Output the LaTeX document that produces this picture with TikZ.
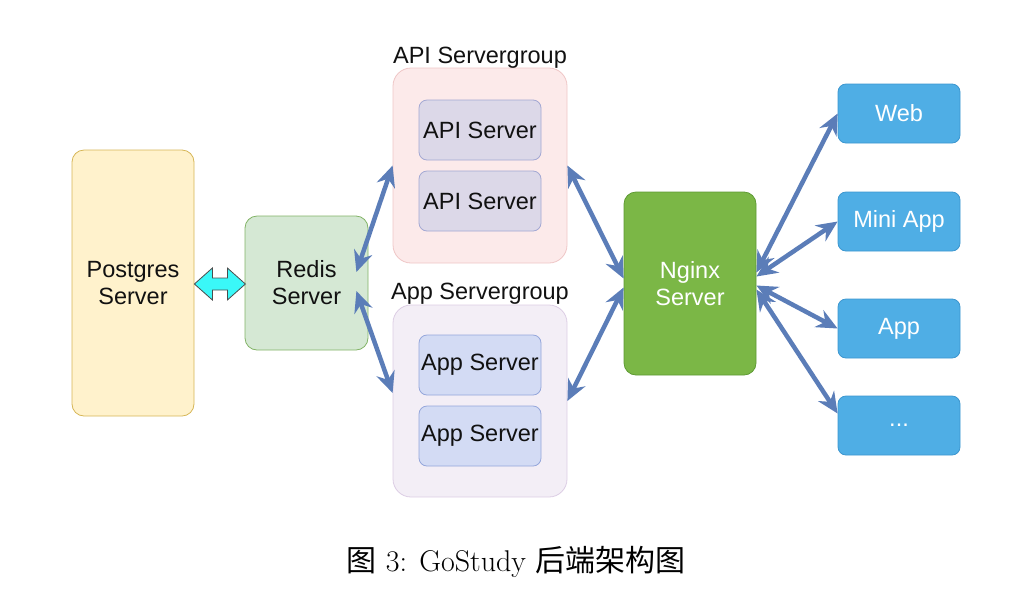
\documentclass[tikz,border=0pt]{standalone}
\usepackage{fontspec}
\newfontfamily\helv{Liberation Sans}
\newfontfamily\cjk{Noto Sans CJK SC}
\usetikzlibrary{arrows.meta}
\definecolor{pgfill}{HTML}{FFF2CC}
\definecolor{pgline}{HTML}{D6B656}
\definecolor{rdfill}{HTML}{D5E8D4}
\definecolor{rdline}{HTML}{82B366}
\definecolor{apigfill}{HTML}{FCEAEA}
\definecolor{apigline}{HTML}{EFC6C6}
\definecolor{apifill}{HTML}{DCD8E8}
\definecolor{apiline}{HTML}{A3A8D3}
\definecolor{appgfill}{HTML}{F3EEF6}
\definecolor{appgline}{HTML}{DCCDE4}
\definecolor{appfill}{HTML}{D3DBF4}
\definecolor{appline}{HTML}{94A6DB}
\definecolor{ngfill}{HTML}{7BB746}
\definecolor{ngline}{HTML}{5E9A34}
\definecolor{clfill}{HTML}{4FAEE5}
\definecolor{clline}{HTML}{3C96CF}
\definecolor{link}{HTML}{5B7DB8}
\definecolor{dbfill}{HTML}{3AF8F8}
\definecolor{txt}{HTML}{111111}
\tikzset{
  box/.style={draw, line width=0.8pt, rounded corners=8pt, align=center,
    font=\helv\fontsize{23.5}{27}\selectfont, text=txt, inner sep=0pt},
  grp/.style={box, rounded corners=18pt, minimum width=174pt},
  srv/.style={box, minimum width=122pt, minimum height=60pt},
  client/.style={box, fill=clfill, draw=clline, text=white,
    minimum width=122pt, minimum height=59pt},
  link/.style={draw=link, line width=4.5pt,
    {Stealth[length=21pt,width=19pt,inset=7pt]}-{Stealth[length=21pt,width=19pt,inset=7pt]}},
  grplabel/.style={font=\helv\fontsize{23.5}{27}\selectfont, text=txt}
}
\begin{document}
\begin{tikzpicture}[x=1pt,y=-1pt]
  \useasboundingbox (0,0) rectangle (1016,598);
  % storage
  \node[box, fill=pgfill, draw=pgline, rounded corners=12pt,
    minimum width=122pt, minimum height=266pt] (pg) at (133,283) {Postgres\\Server};
  \node[box, fill=rdfill, draw=rdline, rounded corners=12pt,
    minimum width=123pt, minimum height=134pt] (redis) at (306.5,283) {Redis\\Server};
  % sync arrow between postgres and redis
  \draw[fill=dbfill, draw=gray!60!black, line width=0.8pt, line join=miter]
    ([yshift=-1pt]pg.east) -- ++(18,-16) -- ++(0,10) -- ++(15,0) -- ++(0,-10)
    -- ++(18,16) -- ++(-18,16) -- ++(0,-10) -- ++(-15,0) -- ++(0,10) -- cycle;
  % server groups
  \node[grp, fill=apigfill, draw=apigline, minimum height=195pt] (apigrp) at (480,165.5) {};
  \node[grplabel] (apilabel) at (480,58) {API Servergroup};
  \node[srv, fill=apifill, draw=apiline] (api1) at (480,130) {API Server};
  \node[srv, fill=apifill, draw=apiline] (api2) at (480,201) {API Server};
  \node[grp, fill=appgfill, draw=appgline, minimum height=192pt] (appgrp) at (480,401) {};
  \node[grplabel] (applabel) at (480,294) {App Servergroup};
  \node[srv, fill=appfill, draw=appline] (app1) at (480,365) {App Server};
  \node[srv, fill=appfill, draw=appline] (app2) at (480,436) {App Server};
  % gateway
  \node[box, fill=ngfill, draw=ngline, text=white, rounded corners=12pt,
    minimum width=132pt, minimum height=183pt] (nginx) at (690,283.5) {Nginx\\Server};
  % clients
  \node[client] (web) at (899,113.5) {Web};
  \node[client] (mini) at (899,221.5) {Mini App};
  \node[client] (appc) at (899,328.5) {App};
  \node[client] (more) at (899,425.5) {...};
  % links
  \draw[link] ([xshift=-12pt,yshift=11pt]redis.east) -- (apigrp.west);
  \draw[link] ([xshift=-12pt,yshift=-8pt]redis.east) -- ([yshift=8pt]appgrp.west);
  \draw[link] (apigrp.east) -- ([yshift=5pt]nginx.west);
  \draw[link] (appgrp.east) -- ([yshift=-4pt]nginx.west);
  \draw[link] ([yshift=11pt]nginx.east) -- (web.west);
  \draw[link] ([yshift=7pt]nginx.east) -- (mini.west);
  \draw[link] ([yshift=-2pt]nginx.east) -- (appc.west);
  \draw[link] ([yshift=-6pt]nginx.east) -- ([yshift=12pt]more.west);
  % caption
  \node[font=\fontsize{30}{34}\selectfont] (caption) at (516,562)
    {{\cjk 图} 3: GoStudy {\cjk 后端架构图}};
\end{tikzpicture}
\end{document}
